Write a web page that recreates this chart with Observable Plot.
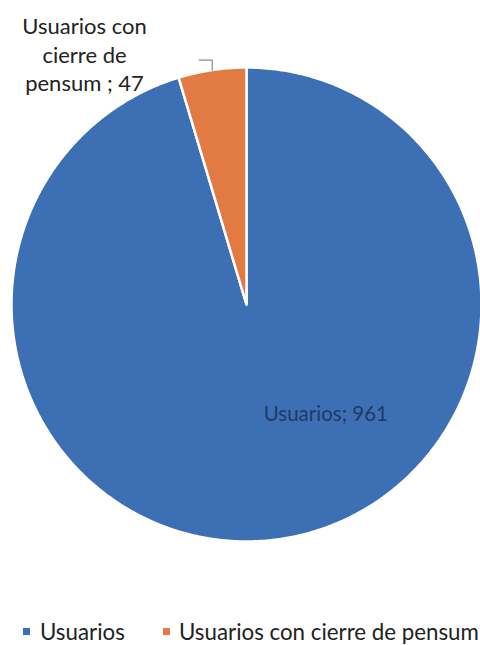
<!DOCTYPE html>
<html><head><meta charset="utf-8">
<script src="https://cdn.jsdelivr.net/npm/d3@7"></script>
<script src="https://cdn.jsdelivr.net/npm/@observablehq/plot@0.6"></script>
<style>
body{margin:0;background:#fff;font-family:Lato,"Open Sans",sans-serif;}
#chart{position:absolute;left:0;top:0;}
#legend{position:absolute;left:0;top:619px;width:480px;height:26px;font-size:22.3px;line-height:26.4px;color:#222;white-space:nowrap;}
.item{position:absolute;top:0;}
.key{position:absolute;top:9px;width:7px;height:7px;}
</style></head>
<body>
<div id="chart"></div>
<div id="legend"></div>
<script>
const categories = ["Usuarios", "Usuarios con cierre de pensum"];
const values = [961, 47];
const labels = ["Usuarios; 961", "Usuarios con\ncierre de\npensum ; 47"];
const colors = ["#3d6fb5", "#e27b43"];

const arcs = d3.pie().sort(null)(values);
const pts = [];
arcs.forEach((a, i) => {
  const n = Math.max(4, Math.ceil((a.endAngle - a.startAngle) * 80));
  pts.push({c: categories[i], x: 0, y: 0});
  for (let k = 0; k <= n; k++) {
    const t = a.startAngle + (a.endAngle - a.startAngle) * k / n;
    pts.push({c: categories[i], x: Math.sin(t), y: Math.cos(t)});
  }
  pts.push({c: categories[i], x: 0, y: 0});
});
const mid = arcs.map(a => (a.startAngle + a.endAngle) / 2);
const m1 = mid[1];
const leader = [
  {x: Math.sin(m1), y: Math.cos(m1) * 1.0},
  {x: Math.sin(m1), y: Math.cos(m1) * 1.042},
  {x: Math.sin(m1) - 0.055, y: Math.cos(m1) * 1.042}
];

const chart = Plot.plot({
  width: 480, height: 600,
  margin: 0,
  x: {domain: [-1, 1], range: [11, 481], axis: null},
  y: {domain: [-1, 1], range: [541, 67], axis: null},
  color: {domain: categories, range: colors},
  style: {fontFamily: "Lato, sans-serif", background: "#fff"},
  marks: [
    Plot.line(pts, {x: "x", y: "y", z: "c", fill: "c", stroke: "#fff", strokeWidth: 2.5, curve: "linear-closed"}),
    Plot.line(leader, {x: "x", y: "y", stroke: "#8a8a8a", strokeWidth: 1.2}),
    Plot.text([labels[0]], {x: () => Math.sin(mid[0]), y: () => Math.cos(mid[0]), text: d => d, dx: 45, dy: -125, fontSize: 20.5, fill: "#1e3a66"}),
    Plot.text([labels[1]], {frameAnchor: "top-left", text: d => d, dx: 84, dy: 53, fontSize: 22, lineHeight: 1.3, textAnchor: "middle", lineAnchor: "middle", fill: "#222"})
  ]
});
document.getElementById("chart").appendChild(chart);

const lg = document.getElementById("legend");
const keyX = [23, 163];
categories.forEach((c, i) => {
  const it = document.createElement("div");
  it.className = "item";
  it.style.left = keyX[i] + "px";
  it.innerHTML = `<span class="key" style="left:0;background:${colors[i]}"></span><span style="position:absolute;left:${i === 0 ? 17 : 16}px">${c}</span>`;
  lg.appendChild(it);
});
</script>
</body></html>
